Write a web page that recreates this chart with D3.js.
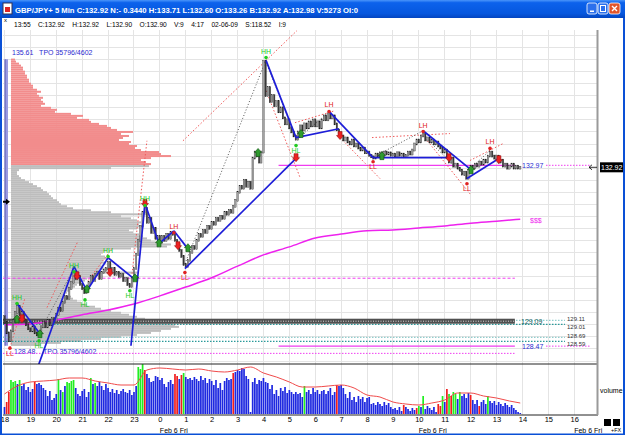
<!DOCTYPE html>
<html>
<head>
<meta charset="utf-8">
<title>GBP/JPY+ 5 Min</title>
<script src="https://cdn.jsdelivr.net/npm/d3@7"></script>
<style>
  body { margin: 0; background: #fff; }
  svg { display: block; font-family: "Liberation Sans", Arial, sans-serif; }
</style>
</head>
<body>
<svg id="chart" width="625" height="435"></svg>
<script>
// ---------- data ----------
const hourLabels = ['18','19','20','21','22','23','0','1','2','3','4','5','6','7','8','9','10','11','12','13','14','15','16'];
const hourTicks = hourLabels.map((h, k) => k * 12);   // bar index of each full hour (5 min bars)
const dateTicks = [72, 192, 264];
const dateLabel = 'Feb 6 Fri';

const priceTicks = [136.20,135.90,135.60,135.30,135.00,134.70,134.40,134.10,133.80,133.50,133.20,132.90,132.60,132.30,
                    132.00,131.70,131.40,131.10,130.80,130.50,130.20,129.90,129.60,129.30,129.00,128.70,128.40,128.10];

const firstOpen = 129.20;
const lastPrice = 132.92;
// 5 min closes, one row per hour (18:00 .. 13:55)
const closes = [
  129.05,128.80,128.60,128.85,129.10,129.30,129.45,129.25,129.30,129.10,129.00,128.90,
  128.85,128.95,128.80,128.75,128.78,128.95,129.05,128.95,129.10,129.00,129.15,129.10,
  129.25,129.40,129.35,129.55,129.70,129.65,129.90,130.05,130.30,130.15,130.20,130.00,
  129.90,129.80,129.90,130.05,130.20,130.10,130.25,130.30,130.15,130.30,130.35,130.40,
  130.55,130.35,130.40,130.25,130.30,130.20,130.25,130.10,130.15,130.00,129.95,130.15,
  130.40,130.75,131.10,131.45,131.80,131.90,131.55,131.65,131.30,131.40,131.15,131.20,
  131.05,131.20,131.10,131.25,131.15,131.30,131.25,131.10,131.00,130.85,130.70,130.50,
  130.45,130.60,130.80,130.95,130.90,131.10,131.25,131.20,131.35,131.30,131.45,131.40,
  131.55,131.50,131.65,131.60,131.70,131.65,131.80,131.75,131.85,131.80,131.95,132.10,
  132.30,132.45,132.40,132.60,132.45,132.55,132.40,133.15,133.30,133.20,133.05,133.30,
  135.55,134.70,134.90,134.55,134.70,134.45,134.55,134.30,134.40,134.15,134.00,134.10,
  133.90,133.80,133.70,133.62,133.80,133.95,133.85,134.00,133.90,134.05,133.95,134.10,
  133.95,134.05,133.90,134.10,134.20,134.10,134.25,134.15,134.20,134.00,133.85,133.75,
  133.70,133.60,133.65,133.55,133.50,133.60,133.45,133.50,133.40,133.35,133.40,133.28,
  133.30,133.22,133.18,133.15,133.25,133.20,133.28,133.22,133.30,133.25,133.28,133.22,
  133.25,133.20,133.28,133.22,133.25,133.18,133.22,133.30,133.25,133.35,133.50,133.60,
  133.55,133.70,133.75,133.60,133.65,133.55,133.60,133.50,133.55,133.45,133.40,133.30,
  133.35,133.20,133.05,133.15,132.95,133.00,132.90,132.85,132.75,132.80,132.65,132.85,
  132.95,132.90,133.00,132.95,133.05,133.00,133.10,133.05,133.20,133.30,133.20,133.15,
  133.20,133.05,133.10,132.95,133.00,132.90,132.95,133.00,132.90,132.95,132.90,132.92
];

const volumes = [
   7,12,22,34,32,33,30,34,28,30,24,27,
  22,25,32,30,31,29,26,24,18,23,14,16,
  20,35,24,22,28,32,31,33,34,26,20,18,
  23,25,17,22,36,30,31,28,32,28,24,30,
  26,22,25,21,24,20,23,25,22,21,24,19,
  22,28,47,45,50,44,40,36,32,33,38,37,
  34,36,30,27,32,34,30,40,38,35,39,41,
  37,35,36,34,37,35,33,38,34,36,31,35,
  33,29,34,26,31,24,33,36,34,35,41,42,
  44,43,46,45,38,35, 2,32,36,30,34,33,
  36,32,31,25,29,20,24,18,26,23,27,21,
  24,22,20,22,20,21,17,28,22,24,20,26,
  22,24,20,23,24,20,23,26,19,22,29,28,
  29,26,20,16,22,14,17,12,18,15,17,12,
  16,17,10,11, 9,12,10, 8,12, 9,11, 7,
   5, 6, 4, 7, 3, 9, 7, 5, 3, 6, 4, 6,
   8, 7,18, 5, 8, 6, 4, 7, 2,10, 8,18,
  12,25,20,18,22,20,15,22,18,20,16,21,
  19,14,10,14, 8,12,14,10,18,13,11,13,
   9,12,10, 8,11, 9, 7, 9, 6, 4, 2, 1
];
const greenVolBars = [3,4,5,7,25,27,29,30,31,32,40,42,62,63,64,83,139,192,194,203,206,208,209,211,224];
const redVolBars = [1,2,14,65,79,80,82,106,154,185,191,201,202,205,207,216,220];

// volume average line, every 30 min
const volAvgIndex = [0,6,12,18,24,30,36,42,48,54,60,66,72,78,84,90,96,102,108,114,120,126,132,138,144,150,
                     156,162,168,174,180,186,192,198,204,210,216,222,228,234,239];
const volAvg = [20,28,32,33,34,36,36,33,31,29,29,44,46,45,44,45,43,42,44,47,41,37,32,27,27,28,
                29,26,19,17,12,10,9,11,14,21,21,18,16,13,11];

// long moving average (magenta), hourly
const maIndex = [0,12,24,36,48,60,72,84,96,108,120,132,144,156,168,180,192,204,216,228,239];
const maValues = [129.00,129.02,129.12,129.25,129.37,129.52,129.72,129.94,130.17,130.46,130.74,130.94,
                  131.16,131.26,131.34,131.36,131.41,131.46,131.53,131.58,131.63];

// TPO profile, 135.60 down to 128.50 in 0.05 steps
const profileTop = 135.60, profileStep = 0.05;
const profile = [
    4,  5,  8, 10, 12, 12, 14, 14, 16, 16,
   18, 18, 20, 22, 22, 26, 30, 26, 28, 32,
   30, 32, 34, 30, 40, 46, 44, 60, 72, 66,
   78, 80, 88, 96,100,106,122,110,118,112,
  108,120,118,126,124,130,148,150,160,140,
  130,135,140,
  138,100,  8,  6,  6,  8, 10, 14, 18, 22,
   26, 30, 32, 36, 38, 40, 42, 46, 48, 50,
   56, 62, 80,100,136,110,120,126,130,128,
  132,126,118,122,128,132,136,140,150,160,
  156,120, 96, 92, 90, 94, 96, 92, 95, 90,
   92, 98, 88,128, 84, 80, 76, 74, 70, 66,
   64, 60, 58, 56, 54, 60, 62, 66, 70, 76,
   84, 90,100,110,118,126,134,150,160,164,
  168,160,150,140,126,110, 90, 70, 50, 30
];
const profileHigh = 135.61, profileLow = 128.48;
const tpoText = 'TPO 35796/4602';
const markerPrice = 132.06;

// swing points [label, bar, price]
const swings = [
  ['LL', 2.5, 128.42], ['HH', 5.8, 129.53], ['HL', 16, 128.60], ['HH', 32.2, 130.32], ['HL', 37.3, 129.62],
  ['HH', 48, 130.70], ['HL', 58.1, 129.85], ['HH', 65.1, 131.97], ['LH', 78.5, 131.29], ['LL', 83.6, 130.30],
  ['HH', 121.2, 135.65], ['HL', 135.1, 133.46], ['LH', 150.4, 134.31], ['LL', 170.8, 133.06],
  ['LH', 194, 133.81], ['LL', 214.3, 132.51], ['LH', 225, 133.39]
];
const buyArrows = [[5.8,129.15],[16.4,128.78],[38.2,129.90],[60.5,130.17],[71.6,131.04],[85,130.92],
                   [117.5,133.29],[137.4,133.76],[174.9,133.21],[216.2,132.86]];
const sellArrows = [[8.1,129.15],[33.6,130.22],[48.9,130.30],[65.1,132.02],[80.4,130.97],
                    [135.1,133.16],[155.5,133.71],[206,133.16],[229.1,133.11]];

// trend lines [bar1, price1, bar2, price2]
const blueLines = [
  [5.8,129.53,16.4,128.78],[15.5,127.96,32.2,130.45],[32.2,130.45,38.2,129.85],[38.2,129.85,48,130.67],
  [48,130.67,59.5,130.17],[58.6,128.48,65.1,132.02],[65.1,132.02,71.6,131.02],[71.6,131.02,78.5,131.34],
  [78.5,131.34,85,130.89],[83.6,130.40,135.1,133.14],[121.2,135.58,135.1,133.66],[135.1,133.66,155,133.88],
  [150.4,134.31,170.8,133.16],[170.8,133.16,206,133.16],[194,133.83,215.7,132.88],[214.3,132.64,229.1,133.14]
];
const redDotLines = [
  [2.5,128.43,9.5,129.67],[19.7,129.43,34.1,131.09],[38.7,130.10,49.8,130.90],[59.1,130.27,66,133.58],
  [82.7,133.58,135.5,136.32],[121.2,134.83,137,132.66],[134.6,134.03,153.2,134.33],[155.5,133.66,174,132.64],
  [170.3,133.66,206.4,133.76],[194,133.71,215.7,132.26],[215.7,133.09,231,133.51]
];
const grayDotLines = [
  [16.5,128.85,31.7,130.35],[83.6,130.52,120.7,135.53],[121.2,135.53,135.1,133.66],[136,133.64,150,134.28],
  [174,133.26,194,133.83],[194,133.71,214.3,132.66],[215.7,132.88,225,133.34]
];

// horizontal levels
const valueBand = 129.09;
const tealLevels = [129.11, 129.01, 128.69, 128.59];
const dashLevel = 130.16;
const dotLevel = 128.29;
const sessionLevels = [132.97, 128.47];
const levelStart = 127, levelEnd = 236.5, tealEnd = 259.7;

// ---------- drawing ----------
const svg = d3.select('#chart');
const defs = svg.append('defs');
const fmt = d3.format('.2f');

const x = d3.scaleLinear().domain([0, 264]).range([4.5, 574.2]);
const y = d3.scaleLinear().domain([128.1, 136.2]).range([361, 35.5]);
const yVol = d3.scaleLinear().domain([0, 50]).range([414, 364]);
const profW = d3.scaleLinear().domain([0, 100]).range([0, 100]);

defs.append('clipPath').attr('id', 'clipPrice')
  .append('rect').attr('x', 3).attr('y', 30).attr('width', 594).attr('height', 334);
defs.append('clipPath').attr('id', 'clipAxis')
  .append('rect').attr('x', 590).attr('y', 28).attr('width', 35).attr('height', 336);

// grid
const grid = svg.append('g').attr('stroke', '#e4e4e4').attr('shape-rendering', 'crispEdges');
grid.selectAll('line.v').data(hourTicks).join('line').attr('class', 'v')
  .attr('x1', d => x(d)).attr('x2', d => x(d)).attr('y1', 30).attr('y2', 415);
grid.selectAll('line.h').data(priceTicks).join('line').attr('class', 'h')
  .attr('x1', 3).attr('x2', 597).attr('y1', d => y(d)).attr('y2', d => y(d));

const pane = svg.append('g').attr('clip-path', 'url(#clipPrice)');

// TPO profile
const rows = profile.map((w, k) => ({ p: +(profileTop - k * profileStep).toFixed(2), w }));
pane.append('g').selectAll('rect').data(rows).join('rect')
  .attr('x', 11)
  .attr('y', d => y(d.p + profileStep / 2))
  .attr('width', d => profW(d.w))
  .attr('height', d => y(d.p - profileStep / 2) - y(d.p + profileStep / 2))
  .attr('fill', d => d.p > sessionLevels[0] ? '#f28c8c' : '#bdbdbd');

pane.append('rect').attr('x', 5).attr('y', y(profileHigh)).attr('width', 3)
  .attr('height', y(profileLow) - y(profileHigh)).attr('fill', '#9a9ae0');
pane.append('line').attr('x1', 5).attr('x2', 5).attr('y1', y(profileHigh)).attr('y2', y(profileLow))
  .attr('stroke', '#5555b8');
pane.append('path')
  .attr('d', `M3,${y(markerPrice) - 1}h3v-2l4,3l-4,3v-2h-3z`).attr('fill', '#000');

pane.append('text').attr('x', 12).attr('y', y(profileHigh) - 4).attr('font-size', 7).attr('fill', '#2b2bd0')
  .attr('xml:space', 'preserve').text(`${fmt(profileHigh)}   ${tpoText}`);
pane.append('text').attr('x', 14).attr('y', y(profileLow) + 8.5).attr('font-size', 7).attr('fill', '#2b2bd0')
  .attr('xml:space', 'preserve').text(`${fmt(profileLow)}    ${tpoText}`);

// levels
pane.append('line').attr('x1', x(0) - 2).attr('x2', x(levelEnd)).attr('y1', y(dashLevel)).attr('y2', y(dashLevel))
  .attr('stroke', '#f03cf0').attr('stroke-dasharray', '3,2');
pane.append('line').attr('x1', 3).attr('x2', x(levelEnd)).attr('y1', y(dotLevel)).attr('y2', y(dotLevel))
  .attr('stroke', '#f03cf0').attr('stroke-dasharray', '1.5,1.5');
pane.selectAll('line.teal').data(tealLevels).join('line').attr('class', 'teal')
  .attr('x1', 3).attr('x2', x(tealEnd)).attr('y1', d => y(d)).attr('y2', d => y(d))
  .attr('stroke', (d, k) => k % 2 ? '#2a9a9a' : '#90cccc').attr('stroke-width', 1.2).attr('stroke-dasharray', '1.5,1.5');
pane.append('rect').attr('x', 3).attr('y', y(valueBand) - 2.5).attr('width', x(levelEnd) - 3).attr('height', 5)
  .attr('fill', '#505050');
pane.append('line').attr('x1', 3).attr('x2', x(levelEnd)).attr('y1', y(valueBand)).attr('y2', y(valueBand))
  .attr('stroke', '#d8d8d8').attr('stroke-dasharray', '1,1.5');
pane.selectAll('line.sess').data(sessionLevels).join('line').attr('class', 'sess')
  .attr('x1', x(levelStart)).attr('x2', x(levelEnd)).attr('y1', d => y(d)).attr('y2', d => y(d))
  .attr('stroke', '#f03cf0').attr('stroke-width', 1.3);
pane.selectAll('line.sessdot').data(sessionLevels).join('line').attr('class', 'sessdot')
  .attr('x1', 546).attr('x2', 590).attr('y1', d => y(d)).attr('y2', d => y(d))
  .attr('stroke', '#f03cf0').attr('stroke-dasharray', '1.5,1.5');
pane.selectAll('text.sess').data(sessionLevels).join('text').attr('class', 'sess')
  .attr('x', 522).attr('y', d => y(d) + 2.5).attr('font-size', 7).attr('fill', '#2b2bd0').text(d => fmt(d));
pane.append('text').attr('x', 521).attr('y', y(valueBand) + 2.5).attr('font-size', 7).attr('fill', '#206060')
  .text(fmt(valueBand));
// stacked level labels, nudged apart a little so each pair stays readable
pane.selectAll('text.teal').data(tealLevels).join('text').attr('class', 'teal')
  .attr('x', 567).attr('y', (d, k) => y(d) + (k % 2 ? 4.5 : 0.5)).attr('font-size', 6).attr('fill', '#333').text(d => fmt(d));

// moving average
const line = d3.line().x(d => x(d[0])).y(d => y(d[1])).curve(d3.curveMonotoneX);
pane.append('path').datum(maIndex.map((b, k) => [b, maValues[k]]))
  .attr('d', line).attr('fill', 'none').attr('stroke', '#ee22ee').attr('stroke-width', 1.5);
pane.append('text').attr('x', 530).attr('y', y(maValues[maValues.length - 1]) + 4)
  .attr('font-size', 7).attr('fill', '#ee22ee').text('$$$');

// dotted guide lines
const seg = sel => sel.attr('x1', d => x(d[0])).attr('y1', d => y(d[1])).attr('x2', d => x(d[2])).attr('y2', d => y(d[3]));
pane.append('g').selectAll('line').data(redDotLines).join('line').call(seg)
  .attr('stroke', '#f05a5a').attr('stroke-dasharray', '1.5,2');
pane.append('g').selectAll('line').data(grayDotLines).join('line').call(seg)
  .attr('stroke', '#555').attr('stroke-dasharray', '1,2');

// candles
const bars = closes.map((c, i) => ({ i, o: i ? closes[i - 1] : firstOpen, c }));
pane.append('g').selectAll('rect').data(bars).join('rect')
  .attr('x', d => x(d.i) - 0.7).attr('width', 1.4)
  .attr('y', d => y(Math.max(d.o, d.c)) - 1)
  .attr('height', d => Math.max(2, Math.abs(y(d.o) - y(d.c)) + 2))
  .attr('fill', d => d.c >= d.o ? '#a6a6a6' : '#3a3a3a')
  .attr('stroke', '#1a1a1a').attr('stroke-width', 0.35);

// blue swing lines
pane.append('g').selectAll('line').data(blueLines).join('line').call(seg)
  .attr('stroke', '#1d1dd8').attr('stroke-width', 1.7);

// signal arrows
pane.append('g').selectAll('path').data(buyArrows).join('path')
  .attr('d', d => { const cx = x(d[0]), cy = y(d[1]); return `M${cx - 2},${cy + 4}V${cy}H${cx - 3.5}L${cx},${cy - 4}L${cx + 3.5},${cy}H${cx + 2}V${cy + 4}Z`; })
  .attr('fill', '#2e9a2e').attr('stroke', '#0d500d').attr('stroke-width', 0.6);
pane.append('g').selectAll('path').data(sellArrows).join('path')
  .attr('d', d => { const cx = x(d[0]), cy = y(d[1]); return `M${cx - 2},${cy - 4}V${cy}H${cx - 3.5}L${cx},${cy + 4}L${cx + 3.5},${cy}H${cx + 2}V${cy - 4}Z`; })
  .attr('fill', '#ee2020').attr('stroke', '#901010').attr('stroke-width', 0.6);

// swing labels
const isUp = d => d[0] === 'HH' || d[0] === 'LH';
const col = d => d[0] === 'HH' || d[0] === 'HL' ? '#22cc22' : '#e02222';
const sw = pane.append('g');
sw.selectAll('circle').data(swings).join('circle')
  .attr('cx', d => x(d[1])).attr('cy', d => y(d[2])).attr('r', 1.8).attr('fill', col);
sw.selectAll('text').data(swings).join('text')
  .attr('x', d => x(d[1])).attr('y', d => isUp(d) ? y(d[2]) - 4 : y(d[2]) + 7.5)
  .attr('text-anchor', 'middle').attr('font-size', 7).attr('fill', col).text(d => d[0]);

// volume panel
const vol = svg.append('g');
vol.selectAll('rect').data(volumes).join('rect')
  .attr('x', (d, i) => x(i) - 0.85).attr('width', 1.7)
  .attr('y', d => yVol(d)).attr('height', d => yVol(0) - yVol(d))
  .attr('fill', (d, i) => greenVolBars.includes(i) ? '#22ee22' : redVolBars.includes(i) ? '#f01e1e' : '#1e28e0');
vol.append('path').datum(volAvgIndex.map((b, k) => [b, volAvg[k]]))
  .attr('d', d3.line().x(d => x(d[0])).y(d => yVol(d[1])).curve(d3.curveMonotoneX))
  .attr('fill', 'none').attr('stroke', '#f04a4a').attr('stroke-width', 1);

// panel frames
svg.append('line').attr('x1', 3).attr('x2', 598).attr('y1', 364).attr('y2', 364).attr('stroke', '#222');
svg.append('line').attr('x1', 3).attr('x2', 598).attr('y1', 415).attr('y2', 415).attr('stroke', '#222');
svg.append('line').attr('x1', 597.5).attr('x2', 597.5).attr('y1', 30).attr('y2', 415)
  .attr('stroke', '#9a9a9a').attr('stroke-width', 2);

// price axis
const yAxis = svg.append('g').attr('transform', 'translate(598,0)').attr('clip-path', 'url(#clipAxis)')
  .call(d3.axisRight(y).tickValues(priceTicks).tickFormat(fmt).tickSize(3).tickPadding(1));
yAxis.select('.domain').remove();
yAxis.selectAll('text').attr('font-size', 7).attr('font-family', '"Liberation Sans", Arial, sans-serif').attr('fill', '#000');
yAxis.selectAll('line').attr('stroke', '#222');

// last price marker
svg.append('rect').attr('x', 600).attr('y', y(lastPrice) - 5).attr('width', 23).attr('height', 10).attr('fill', '#000');
svg.append('text').attr('x', 601).attr('y', y(lastPrice) + 2.5).attr('font-size', 7).attr('fill', '#fff').text(fmt(lastPrice));
svg.append('path').attr('d', `M589,${y(lastPrice)}h8M592,${y(lastPrice) - 2.5}l-3,2.5l3,2.5`)
  .attr('fill', 'none').attr('stroke', '#000').attr('stroke-width', 0.8);
svg.append('text').attr('x', 600).attr('y', 393).attr('font-size', 7).text('volume');

// time axis
const xAxis = svg.append('g').attr('transform', 'translate(0,415)')
  .call(d3.axisBottom(x).tickValues(hourTicks).tickFormat((d, k) => hourLabels[k]).tickSize(0).tickPadding(2));
xAxis.select('.domain').remove();
xAxis.selectAll('text').attr('font-size', 7.5).attr('font-family', '"Liberation Sans", Arial, sans-serif').attr('fill', '#000');
svg.selectAll('text.date').data(dateTicks).join('text').attr('class', 'date')
  .attr('x', d => x(d)).attr('y', 432.5).attr('font-size', 7).text(dateLabel);
svg.append('rect').attr('x', 604).attr('y', 419).attr('width', 7).attr('height', 7).attr('fill', '#000');
svg.append('rect').attr('x', 613).attr('y', 419).attr('width', 7).attr('height', 7).attr('fill', '#000');
svg.append('text').attr('x', 611).attr('y', 432).attr('font-size', 5.5).text('+FX');

// window chrome
const tg = defs.append('linearGradient').attr('id', 'tbar').attr('x1', 0).attr('x2', 0).attr('y1', 0).attr('y2', 1);
[['0%', '#4a95fa'], ['15%', '#0c62ec'], ['75%', '#0657de'], ['100%', '#0345c0']]
  .forEach(([o, c]) => tg.append('stop').attr('offset', o).attr('stop-color', c));
const chrome = svg.append('g');
chrome.append('rect').attr('x', 0).attr('y', 0).attr('width', 625).attr('height', 18).attr('fill', 'url(#tbar)');
chrome.append('rect').attr('x', 0).attr('y', 18).attr('width', 2).attr('height', 417).attr('fill', '#0a50d6');
chrome.append('rect').attr('x', 623).attr('y', 18).attr('width', 2).attr('height', 417).attr('fill', '#0a50d6');
chrome.append('rect').attr('x', 0).attr('y', 433.5).attr('width', 625).attr('height', 1.5).attr('fill', '#0a50d6');
chrome.append('rect').attr('x', 3).attr('y', 3).attr('width', 9).attr('height', 11).attr('fill', '#fff').attr('stroke', '#335');
chrome.append('rect').attr('x', 5).attr('y', 7).attr('width', 5).attr('height', 5).attr('fill', '#d22');
chrome.append('text').attr('x', 15).attr('y', 12.5).attr('font-size', 8).attr('font-weight', 'bold').attr('fill', '#fff')
  .attr('textLength', 343).attr('lengthAdjust', 'spacingAndGlyphs')
  .text('GBP/JPY+ 5 Min C:132.92 N:- 0.3440 H:133.71 L:132.60 O:133.26 B:132.92 A:132.98 V:5273 OI:0');
[587, 598].forEach(bx => chrome.append('rect').attr('x', bx).attr('y', 3).attr('width', 10).attr('height', 11).attr('rx', 2)
  .attr('fill', '#2c70ec').attr('stroke', '#fff').attr('stroke-width', 0.8));
chrome.append('rect').attr('x', 590).attr('y', 10.5).attr('width', 4).attr('height', 1.5).attr('fill', '#fff');
chrome.append('rect').attr('x', 600.5).attr('y', 5.5).attr('width', 5).attr('height', 6).attr('fill', 'none').attr('stroke', '#fff');
chrome.append('rect').attr('x', 609).attr('y', 3).attr('width', 11).attr('height', 11).attr('rx', 2)
  .attr('fill', '#e2552a').attr('stroke', '#fff').attr('stroke-width', 0.8);
chrome.append('path').attr('d', 'M612,6l5,5M617,6l-5,5').attr('stroke', '#fff').attr('stroke-width', 1.4);

// info line
chrome.append('text').attr('x', 4).attr('y', 22).attr('font-size', 6).text('x');
chrome.append('text').attr('x', 14).attr('y', 27).attr('font-size', 7.5).attr('xml:space', 'preserve')
  .attr('textLength', 272).attr('lengthAdjust', 'spacingAndGlyphs')
  .text('13:55    C:132.92    H:132.92    L:132.90    O:132.90    V:9    4:17    02-06-09    S:118.52    I:9');
</script>
</body>
</html>
